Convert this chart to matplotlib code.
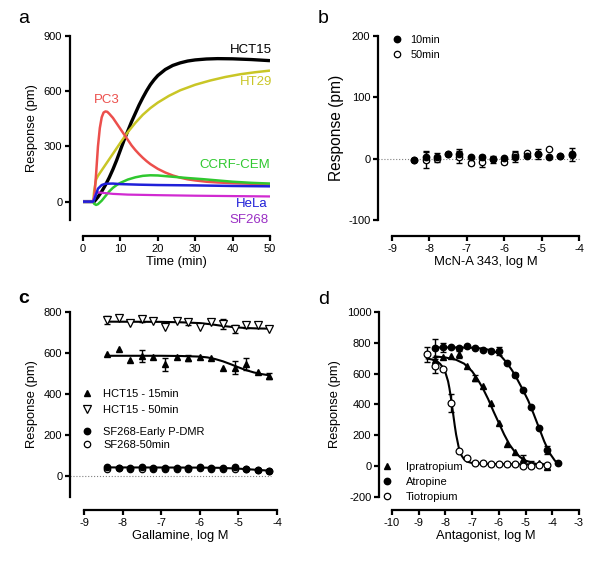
import matplotlib
matplotlib.use("Agg")
import matplotlib.pyplot as plt
from matplotlib.lines import Line2D

plt.rcParams['font.family'] = ['Liberation Sans', 'DejaVu Sans']
plt.rcParams['axes.unicode_minus'] = False

# ---- panel a: kinetic DMR traces ----
t_hct15 = [0, 1, 2, 3, 4, 5, 6, 7, 8, 9, 10, 11, 12, 13, 14, 15, 16, 17, 18, 19, 20,
           22, 24, 26, 28, 30, 33, 36, 40, 45, 50]
r_hct15 = [0, 0, 0, 0, 25, 55, 90, 130, 175, 225, 280, 335, 385, 435, 480, 525, 565, 602,
           635, 662, 685, 718, 740, 754, 764, 770, 775, 777, 776, 772, 766]
t_ht29 = [0, 1, 2, 2.7, 3, 3.5, 4, 5, 6, 8, 10, 12, 14, 16, 18, 20, 23, 26, 30, 34, 38, 42, 46, 50]
r_ht29 = [0, 0, 0, 0, 60, 120, 140, 170, 200, 260, 320, 378, 428, 472, 508, 538, 575, 605,
          635, 658, 677, 692, 703, 712]
t_pc3 = [0, 1, 2, 2.7, 3, 3.5, 4, 4.5, 5, 5.5, 6, 6.5, 7, 8, 9, 10, 11, 12, 13, 14, 15, 16,
         17, 18, 20, 22, 24, 26, 28, 30, 33, 36, 40, 45, 50]
r_pc3 = [0, 0, 0, 0, 20, 150, 300, 400, 458, 484, 490, 488, 478, 455, 425, 395, 365, 335,
         305, 280, 258, 238, 220, 204, 178, 158, 142, 130, 121, 115, 108, 104, 100, 97, 95]
t_ccrf = [0, 1, 2, 2.7, 3, 3.5, 4, 5, 6, 7, 8, 9, 10, 12, 14, 16, 18, 20, 24, 28, 32, 36, 40, 45, 50]
r_ccrf = [0, 0, 0, 0, -12, -18, -14, 5, 30, 55, 75, 90, 102, 120, 132, 140, 143, 142, 135,
          128, 122, 115, 108, 102, 98]
t_hela = [0, 1, 2, 2.7, 3, 3.5, 4, 5, 6, 8, 10, 15, 20, 30, 40, 50]
r_hela = [0, 0, 0, 0, 10, 40, 70, 90, 97, 98, 95, 92, 90, 88, 85, 83]
t_sf268 = [0, 1, 2, 2.7, 3, 3.5, 4, 5, 8, 12, 20, 30, 40, 50]
r_sf268 = [0, 0, 0, 0, 25, 45, 50, 48, 42, 38, 35, 32, 30, 28]

# ---- panel b: McN-A 343 ----
x_b = [-8.4, -8.1, -7.8, -7.5, -7.2, -6.9, -6.6, -6.3, -6.0, -5.7, -5.4, -5.1, -4.8, -4.5, -4.2]
b_10 = [-2, 3, 2, 7, 7, 2, 2, -1, 1, 3, 4, 8, 3, 5, 7]
b_10_err = [0, 9, 8, 0, 8, 0, 4, 6, 0, 8, 0, 8, 0, 0, 10]
b_50 = [-2, -2, 0, 8, 3, -7, -6, 0, -5, 6, 10, 7, 16, 5, 6]
b_50_err = [0, 13, 0, 0, 10, 4, 7, 0, 4, 6, 0, 0, 0, 0, 0]

# ---- panel c: gallamine ----
x_c = [-8.4, -8.1, -7.8, -7.5, -7.2, -6.9, -6.6, -6.3, -6.0, -5.7, -5.4, -5.1, -4.8, -4.5, -4.2]
c_15 = [598, 622, 566, 585, 582, 545, 582, 575, 583, 578, 530, 530, 548, 508, 488]
c_15_err = [0, 0, 0, 30, 0, 30, 0, 15, 0, 0, 0, 30, 30, 0, 15]
c_50 = [760, 772, 747, 765, 757, 727, 757, 752, 728, 752, 742, 718, 735, 735, 716]
c_50_err = [20, 0, 0, 15, 0, 0, 0, 15, 0, 0, 25, 20, 15, 0, 0]
c_sf_early = [45, 42, 43, 44, 42, 41, 43, 42, 46, 40, 42, 44, 37, 31, 27]
c_sf_50 = [38, 40, 38, 36, 37, 37, 38, 37, 40, 35, 38, 38, 36, 32, 27]
fit_c15_x = [-8.4, -7.0, -6.5, -6.0, -5.8, -5.6, -5.4, -5.2, -5.0, -4.8, -4.6, -4.4, -4.2]
fit_c15_y = [587, 587, 586, 583, 579, 571, 560, 546, 531, 517, 506, 498, 492]
fit_c50_x = [-8.4, -7.0, -6.5, -6.0, -5.7, -5.4, -5.1, -4.8, -4.5, -4.2]
fit_c50_y = [753, 752, 750, 746, 740, 732, 726, 722, 720, 719]
fit_csf_x = [-8.4, -6.0, -5.5, -5.0, -4.5, -4.2]
fit_csf_y = [44, 43, 42, 38, 32, 28]

# ---- panel d: antagonists ----
x_ipra = [-8.4, -8.1, -7.8, -7.5, -7.2, -6.9, -6.6, -6.3, -6.0, -5.7, -5.4, -5.1, -4.8, -4.5, -4.2]
d_ipra = [690, 710, 715, 725, 648, 570, 520, 410, 278, 145, 95, 45, 12, 18, -5]
d_ipra_err = [0, 0, 0, 25, 0, 20, 0, 0, 0, 0, 0, 30, 20, 0, 0]
x_atro = [-8.4, -8.1, -7.8, -7.5, -7.2, -6.9, -6.6, -6.3, -6.0, -5.7, -5.4, -5.1, -4.8, -4.5, -4.2, -3.8]
d_atro = [765, 770, 770, 765, 780, 765, 755, 745, 745, 668, 592, 492, 385, 248, 105, 18]
d_atro_err = [60, 30, 0, 0, 0, 0, 0, 0, 25, 0, 15, 0, 0, 0, 25, 0]
x_tio = [-8.7, -8.4, -8.1, -7.8, -7.5, -7.2, -6.9, -6.6, -6.3, -6.0, -5.7, -5.4, -5.1, -4.8, -4.5, -4.2]
d_tio = [725, 650, 628, 410, 100, 50, 20, 18, 12, 12, 15, 12, 0, 2, 8, 8]
d_tio_err = [50, 45, 0, 60, 0, 0, 0, 0, 0, 0, 0, 0, 0, 0, 0, 0]
fit_ipra_x = [-8.4, -8.0, -7.6, -7.3, -7.0, -6.8, -6.6, -6.4, -6.2, -6.0, -5.8, -5.6, -5.4,
              -5.2, -5.0, -4.6, -4.2]
fit_ipra_y = [712, 705, 690, 665, 615, 565, 505, 435, 355, 280, 205, 140, 92, 58, 36, 14, 8]
fit_atro_x = [-8.4, -7.5, -7.0, -6.6, -6.3, -6.1, -5.9, -5.7, -5.5, -5.3, -5.1, -4.9, -4.7,
              -4.5, -4.3, -4.1, -3.9, -3.8]
fit_atro_y = [770, 770, 768, 763, 752, 738, 710, 670, 620, 560, 495, 425, 340, 250, 160, 85, 35, 22]
fit_tio_x = [-8.7, -8.5, -8.3, -8.2, -8.1, -8.0, -7.9, -7.85, -7.8, -7.75, -7.7, -7.65, -7.6,
             -7.5, -7.4, -7.3, -7.2, -7.0, -6.5, -6.0, -5.0, -4.2]
fit_tio_y = [698, 692, 678, 664, 642, 607, 550, 505, 450, 390, 325, 262, 205, 120, 70, 44,
             30, 20, 15, 13, 12, 12]

W, H = 600, 562
fig = plt.figure(figsize=(W / 100, H / 100), dpi=100)

MS = 4.6  # marker size used throughout


def make_ax(x0, x1, ytop, ybot, off_left, off_bottom):
    ax = fig.add_axes([x0 / W, 1 - ybot / H, (x1 - x0) / W, (ybot - ytop) / H])
    ax.patch.set_alpha(0)
    for s in ['top', 'right']:
        ax.spines[s].set_visible(False)
    ax.spines['left'].set_position(('outward', off_left * 0.72))
    ax.spines['bottom'].set_position(('outward', off_bottom * 0.72))
    for s in ['left', 'bottom']:
        ax.spines[s].set_linewidth(1.6)
    ax.tick_params(width=1.6, length=3.5, labelsize=8, pad=2)
    return ax


def err_bars(ax, x, y, e):
    xs = [a for a, k in zip(x, e) if k > 0]
    ys = [a for a, k in zip(y, e) if k > 0]
    es = [k for k in e if k > 0]
    ax.errorbar(xs, ys, yerr=es, fmt='none', ecolor='black', elinewidth=1,
                capsize=2.5, capthick=1, zorder=2, clip_on=False)


def filled(m='o', ms=MS):
    return Line2D([], [], ls='none', marker=m, ms=ms, color='black')


def hollow(m='o', ms=MS):
    return Line2D([], [], ls='none', marker=m, ms=ms, mfc='white', mec='black', mew=0.9)


# ---------------- a ----------------
ax = make_ax(83, 270, 36, 220, 13, 16)
traces = [
    (t_hct15, r_hct15, 'black', 2.4),
    (t_ht29, r_ht29, '#c9c626', 1.8),
    (t_pc3, r_pc3, '#ec4f4c', 1.8),
    (t_ccrf, r_ccrf, '#2fc82f', 1.8),
    (t_sf268, r_sf268, '#d12ad1', 1.6),
    (t_hela, r_hela, '#1f1fd8', 1.8),
]
for t, r, c, lw in traces:
    ax.plot(t, r, color=c, lw=lw, solid_capstyle='butt')
ax.set_xlim(0, 50)
ax.set_ylim(-100, 900)
ax.set_xticks([0, 10, 20, 30, 40, 50])
ax.set_yticks([0, 300, 600, 900])
ax.set_xlabel('Time (min)', fontsize=9.3, labelpad=2)
ax.set_ylabel('Response (pm)', fontsize=9.3, labelpad=4)
lab = dict(fontsize=9.5, va='center')
ax.text(50.5, 824, 'HCT15', color='black', ha='right', **lab)
ax.text(50.5, 650, 'HT29', color='#c9c626', ha='right', **lab)
ax.text(6.4, 551, 'PC3', color='#ec4f4c', ha='center', **lab)
ax.text(50, 198, 'CCRF-CEM', color='#2fc82f', ha='right', **lab)
ax.text(49.2, -13, 'HeLa', color='#1f1fd8', ha='right', **lab)
ax.text(49.5, -100, 'SF268', color='#9a2fc4', ha='right', **lab)

# ---------------- b ----------------
ax = make_ax(392, 579, 36, 220, 14, 16)
ax.axhline(0, xmin=-0.075, xmax=1.0, color='gray', ls=':', lw=0.8, clip_on=False)
err_bars(ax, x_b, b_50, b_50_err)
err_bars(ax, x_b, b_10, b_10_err)
ax.plot(x_b, b_50, 'o', ms=MS, mfc='white', mec='black', mew=0.9, zorder=3)
ax.plot(x_b, b_10, 'o', ms=MS, color='black', zorder=4)
ax.set_xlim(-9, -4)
ax.set_ylim(-100, 200)
ax.set_xticks(range(-9, -3))
ax.set_yticks([-100, 0, 100, 200])
ax.set_xlabel('McN-A 343, log M', fontsize=9.4, labelpad=2)
ax.set_ylabel('Response (pm)', fontsize=11.2, labelpad=3)
ax.legend([filled(), hollow()], ['10min', '50min'], loc='upper left',
          bbox_to_anchor=(391.8 / W, 1 - 35 / H), bbox_transform=fig.transFigure,
          frameon=False, fontsize=7.8, handlelength=1.0, handletextpad=0.7,
          labelspacing=0.45, borderpad=0, borderaxespad=0)

# ---------------- c ----------------
ax = make_ax(84, 277, 312, 497, 14, 13)
ax.axhline(0, xmin=-0.075, xmax=0.97, color='gray', ls=':', lw=0.8, clip_on=False)
ax.plot(fit_c15_x, fit_c15_y, color='black', lw=1.5, zorder=2)
ax.plot(fit_c50_x, fit_c50_y, color='black', lw=1.5, zorder=2)
ax.plot(fit_csf_x, fit_csf_y, color='black', lw=1.5, zorder=2)
err_bars(ax, x_c, c_15, c_15_err)
err_bars(ax, x_c, c_50, c_50_err)
ax.plot(x_c, c_15, '^', ms=MS + 0.4, color='black', zorder=4)
ax.plot(x_c, c_50, 'v', ms=MS + 0.6, mfc='white', mec='black', mew=0.9, zorder=4)
ax.plot(x_c, c_sf_50, 'o', ms=MS, mfc='white', mec='black', mew=0.9, zorder=3)
ax.plot(x_c, c_sf_early, 'o', ms=MS, color='black', zorder=4)
ax.set_xlim(-9, -4)
ax.set_ylim(-100, 800)
ax.set_xticks(range(-9, -3))
ax.set_yticks([0, 200, 400, 600, 800])
ax.set_xlabel('Gallamine, log M', fontsize=9.3, labelpad=2)
ax.set_ylabel('Response (pm)', fontsize=9.3, labelpad=4)
lg = ax.legend([filled('^', MS + 0.4), hollow('v', MS + 0.6)], ['HCT15 - 15min', 'HCT15 - 50min'],
               loc='upper left', bbox_to_anchor=(81.5 / W, 1 - 389 / H),
               bbox_transform=fig.transFigure, frameon=False, fontsize=8, handlelength=1.0,
               handletextpad=0.95, labelspacing=0.5, borderpad=0, borderaxespad=0)
ax.add_artist(lg)
ax.legend([filled(), hollow()], ['SF268-Early P-DMR', 'SF268-50min'], loc='upper left',
          bbox_to_anchor=(81.5 / W, 1 - 427 / H), bbox_transform=fig.transFigure,
          frameon=False, fontsize=8, handlelength=1.0, handletextpad=0.95,
          labelspacing=0.3, borderpad=0, borderaxespad=0)

# ---------------- d ----------------
ax = make_ax(392, 579, 312, 497, 13, 13)
ax.plot(fit_ipra_x, fit_ipra_y, color='black', lw=1.5, zorder=2)
ax.plot(fit_atro_x, fit_atro_y, color='black', lw=1.5, zorder=2)
ax.plot(fit_tio_x, fit_tio_y, color='black', lw=1.5, zorder=2)
err_bars(ax, x_ipra, d_ipra, d_ipra_err)
err_bars(ax, x_atro, d_atro, d_atro_err)
err_bars(ax, x_tio, d_tio, d_tio_err)
ax.plot(x_ipra, d_ipra, '^', ms=MS + 0.4, color='black', zorder=4, clip_on=False)
ax.plot(x_atro, d_atro, 'o', ms=MS, color='black', zorder=4, clip_on=False)
ax.plot(x_tio, d_tio, 'o', ms=MS + 0.3, mfc='white', mec='black', mew=0.9, zorder=5, clip_on=False)
ax.set_xlim(-10, -3)
ax.set_ylim(-200, 1000)
ax.set_xticks(range(-10, -2))
ax.set_yticks(range(-200, 1001, 200))
ax.set_xlabel('Antagonist, log M', fontsize=9.3, labelpad=2)
ax.set_ylabel('Response (pm)', fontsize=9.3, labelpad=4)
ax.legend([filled('^', MS + 0.4), filled(), hollow()], ['Ipratropium', 'Atropine', 'Tiotropium'],
          loc='upper left', bbox_to_anchor=(381.5 / W, 1 - 462 / H),
          bbox_transform=fig.transFigure, frameon=False, fontsize=8, handlelength=1.0,
          handletextpad=1.2, labelspacing=0.45, borderpad=0, borderaxespad=0)

# panel letters
fig.text(18 / W, 1 - 23 / H, 'a', fontsize=14, va='baseline')
fig.text(318 / W, 1 - 23 / H, 'b', fontsize=14, va='baseline')
fig.text(18 / W, 1 - 303 / H, 'c', fontsize=14, va='baseline', fontweight='bold')
fig.text(318 / W, 1 - 304 / H, 'd', fontsize=14, va='baseline')

fig.savefig('out.png', dpi=100)
